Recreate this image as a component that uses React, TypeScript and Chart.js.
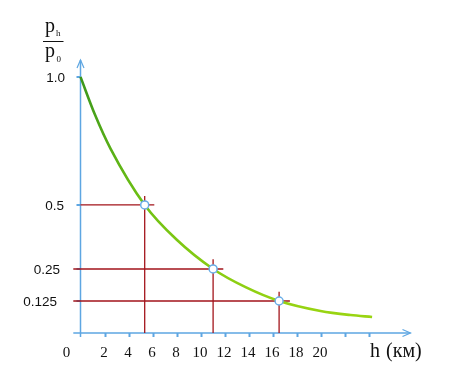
import React, { useEffect, useRef } from "react";
import { Chart, registerables } from "chart.js";

Chart.register(...registerables);

// Curve: relative pressure p_h/p_0 versus height h (km)
const curveH = [0, 1.2, 2.5, 5.35, 8, 11.05, 13.8, 16.55, 20, 22.5, 24.3];
const curveP = [1.0, 0.853, 0.72, 0.5, 0.365, 0.25, 0.178, 0.125, 0.086, 0.07, 0.0625];

// Marked points and their guide lines
const markH = [5.35, 11.05, 16.55];
const markP = [0.5, 0.25, 0.125];
const guideStartH = [0, -0.6, -0.6];
const guideEndH = [6.15, 11.9, 17.45];
const guideTopP = [0.535, 0.288, 0.161];

// Axes
const xTickValues = [2, 4, 6, 8, 10, 12, 14, 16, 18, 20, 22, 24];
const xLabelValues = [0, 2, 4, 6, 8, 10, 12, 14, 16, 18, 20];
const xLabels = ["0", "2", "4", "6", "8", "10", "12", "14", "16", "18", "20"];
const yTickValues = [1.0, 0.5, 0.25, 0.125];
const yLabels = ["1.0", "0.5", "0.25", "0.125"];

const AXIS = "#5ea6e2";
const RED = "#a3141b";

export default function App() {
  const ref = useRef<HTMLCanvasElement | null>(null);

  useEffect(() => {
    const canvas = ref.current;
    if (!canvas) return;

    const guides = markH.map((h, i) => ({
      type: "line" as const,
      data: [
        { x: guideStartH[i], y: markP[i] },
        { x: guideEndH[i], y: markP[i] },
        { x: NaN, y: NaN },
        { x: h, y: -0.005 },
        { x: h, y: guideTopP[i] },
      ],
      borderColor: RED,
      borderWidth: 1.3,
      pointRadius: 0,
      spanGaps: false,
      tension: 0,
    }));

    const axesPlugin = {
      id: "axesPlugin",
      beforeDatasetsDraw(chart: any) {
        const ctx = chart.ctx;
        const xs = chart.scales.x;
        const ys = chart.scales.y;
        const x0 = xs.getPixelForValue(0);
        const y0 = ys.getPixelForValue(0);
        const xStart = xs.getPixelForValue(-0.6);
        const xEnd = xs.getPixelForValue(27.5);
        const yTop = ys.getPixelForValue(1.066);
        ctx.save();
        ctx.strokeStyle = AXIS;
        ctx.lineWidth = 1.5;
        ctx.beginPath();
        ctx.moveTo(xStart, y0);
        ctx.lineTo(xEnd, y0);
        ctx.moveTo(x0, y0 + 4);
        ctx.lineTo(x0, yTop);
        ctx.stroke();
        ctx.lineWidth = 1.2;
        ctx.beginPath();
        ctx.moveTo(xEnd - 8, y0 - 3.5);
        ctx.lineTo(xEnd, y0);
        ctx.lineTo(xEnd - 8, y0 + 3.5);
        ctx.moveTo(x0 - 3.5, yTop + 8);
        ctx.lineTo(x0, yTop);
        ctx.lineTo(x0 + 3.5, yTop + 8);
        ctx.stroke();
        ctx.lineWidth = 2;
        ctx.beginPath();
        xTickValues.forEach((v) => {
          const px = Math.round(xs.getPixelForValue(v)) + 0.5;
          ctx.moveTo(px, y0);
          ctx.lineTo(px, y0 + 4);
        });
        yTickValues.forEach((v) => {
          const py = ys.getPixelForValue(v);
          ctx.moveTo(x0 - 4, py);
          ctx.lineTo(x0, py);
        });
        ctx.stroke();
        ctx.restore();
      },
      afterDraw(chart: any) {
        const ctx = chart.ctx;
        const xs = chart.scales.x;
        const ys = chart.scales.y;
        const x0 = xs.getPixelForValue(0);
        const y0 = ys.getPixelForValue(0);
        ctx.save();
        ctx.fillStyle = "#111";
        // y tick labels
        const yRight = [65, 64, 60, 57];
        ctx.font = '13.5px "Liberation Sans"';
        ctx.textAlign = "right";
        ctx.textBaseline = "middle";
        yLabels.forEach((t, i) => {
          const py = ys.getPixelForValue(yTickValues[i]) + 1;
          ctx.fillText(t, yRight[i], py);
        });
        // x tick labels
        ctx.font = '15px "Liberation Serif"';
        ctx.textAlign = "center";
        ctx.textBaseline = "middle";
        xLabels.forEach((t, i) => {
          const v = xLabelValues[i];
          const px = v === 0 ? x0 - 14 : xs.getPixelForValue(v) - 0.5;
          ctx.fillText(t, px, y0 + 20);
        });
        // x axis title
        ctx.font = '20px "Liberation Serif"';
        ctx.textAlign = "left";
        ctx.textBaseline = "alphabetic";
        ctx.fillText("h", 370, 357);
        ctx.fillText("(км)", 386, 357);
        // y axis title: fraction p_h / p_0
        ctx.font = '20px "Liberation Serif"';
        ctx.fillText("p", 45, 31.5);
        ctx.fillText("p", 45, 56.5);
        ctx.font = '9px "Liberation Serif"';
        ctx.fillText("h", 56, 36);
        ctx.fillText("0", 56.5, 61.5);
        ctx.strokeStyle = "#111";
        ctx.lineWidth = 1;
        ctx.beginPath();
        ctx.moveTo(43, 41.5);
        ctx.lineTo(63.5, 41.5);
        ctx.stroke();
        ctx.restore();
      },
    };

    const chart = new Chart(canvas, {
      type: "line",
      data: {
        datasets: [
          {
            type: "scatter",
            data: markH.map((h, i) => ({ x: h, y: markP[i] })),
            pointRadius: 4,
            pointBackgroundColor: "#ffffff",
            pointBorderColor: "#6aaee8",
            pointBorderWidth: 1.5,
            showLine: false,
          } as any,
          {
            type: "line",
            data: curveH.map((h, i) => ({ x: h, y: curveP[i] })),
            borderColor: (c: any) => {
              const area = c.chart.chartArea;
              if (!area) return "#5cb21a";
              const g = c.chart.ctx.createLinearGradient(0, area.top + 17, 0, area.bottom - 16);
              g.addColorStop(0, "#3a961c");
              g.addColorStop(0.5, "#6cbf14");
              g.addColorStop(1, "#9ad512");
              return g;
            },
            borderWidth: 2.6,
            pointRadius: 0,
            cubicInterpolationMode: "monotone",
          } as any,
          ...guides,
        ],
      },
      options: {
        animation: false,
        responsive: false,
        devicePixelRatio: 1,
        layout: { padding: { left: 68.5, right: 39.5, top: 60, bottom: 47 } },
        plugins: { legend: { display: false }, tooltip: { enabled: false } },
        scales: {
          x: { type: "linear", min: -1, max: 27.5, display: false },
          y: { type: "linear", min: 0, max: 1.066, display: false },
        },
      },
      plugins: [axesPlugin],
    });

    return () => chart.destroy();
  }, []);

  return (
    <div style={{ position: "fixed", left: 0, top: 0, width: 450, height: 380, background: "#fff" }}>
      <canvas ref={ref} width={450} height={380} />
    </div>
  );
}
